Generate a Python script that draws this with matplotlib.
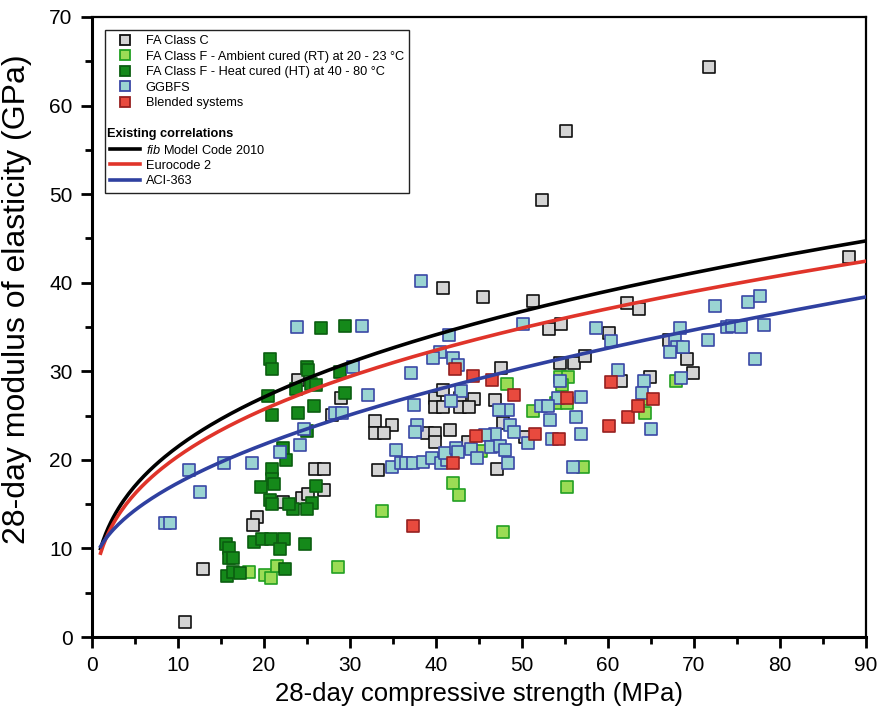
import numpy as np
import matplotlib
matplotlib.use('Agg')
import matplotlib.pyplot as plt
from matplotlib.lines import Line2D

# --- data (x = compressive strength MPa, y = E GPa) ---
fa_c_x = [71.7, 55.1, 52.3, 88.0, 40.8, 45.5, 51.3, 53.1, 54.5, 62.2, 63.6, 60.1,
          47.6, 54.4, 56.0, 57.3, 64.9, 61.5, 67.1, 69.2, 69.9, 44.4, 46.9, 47.8,
          47.1, 50.3, 24.0, 29.0, 39.9, 40.8, 39.9, 40.8, 42.8, 42.8, 43.8, 27.9,
          32.9, 34.9, 32.9, 34.0, 39.0, 39.9, 39.9, 41.6, 43.7, 25.9, 27.0, 33.3,
          27.0, 24.4, 25.1, 22.2, 19.2, 18.7, 12.9, 10.8]
fa_c_y = [64.4, 57.1, 49.3, 42.9, 39.4, 38.4, 37.9, 34.8, 35.3, 37.7, 37.0, 34.3,
          30.4, 30.9, 30.9, 31.7, 29.4, 28.9, 33.5, 31.4, 29.8, 26.9, 26.8, 24.2,
          19.0, 22.6, 29.0, 27.0, 27.0, 27.9, 26.0, 26.0, 27.0, 26.0, 26.0, 25.1,
          24.4, 23.9, 23.0, 23.0, 23.0, 23.0, 22.0, 23.4, 22.0, 19.0, 19.0, 18.9,
          16.6, 15.7, 16.1, 15.2, 13.5, 12.6, 7.7, 1.7]

fa_f_rt_x = [48.3, 54.4, 55.3, 54.7, 51.3, 54.0, 55.2, 64.3, 64.1, 45.2, 57.1,
             55.2, 47.8, 67.9, 42.0, 42.7, 33.7, 18.3, 20.1, 20.8, 21.5, 28.6]
fa_f_rt_y = [28.6, 29.4, 29.4, 28.4, 25.5, 26.4, 26.4, 25.3, 26.9, 21.0, 19.2,
             16.9, 11.9, 28.9, 17.4, 16.0, 14.2, 7.3, 7.0, 6.7, 8.0, 7.9]

fa_f_ht_x = [26.6, 29.4, 25.0, 25.1, 28.8, 25.5, 26.0, 23.7, 29.4, 25.8, 24.0,
             25.0, 22.2, 22.6, 26.0, 25.6, 25.0, 23.4, 22.9, 22.3, 24.8, 20.9,
             20.5, 20.9, 20.9, 21.2, 19.7, 20.7, 20.9, 15.6, 15.9, 18.8, 19.8,
             20.8, 21.9, 15.9, 16.4, 20.7, 20.9, 15.7, 16.4, 17.2, 22.4]
fa_f_ht_y = [34.9, 35.1, 30.5, 30.1, 29.9, 28.6, 28.5, 28.0, 27.6, 26.1, 25.3,
             23.3, 21.3, 20.0, 17.0, 15.1, 14.4, 14.4, 15.0, 11.1, 10.5, 25.1,
             27.2, 19.0, 17.8, 17.3, 16.9, 15.5, 15.0, 10.5, 10.0, 10.7, 11.1,
             11.1, 9.9, 8.9, 8.9, 31.4, 30.3, 6.9, 7.3, 7.2, 7.7]

ggbfs_x = [11.3, 12.6, 15.3, 18.6, 21.9, 8.5, 9.1, 32.1, 28.3, 29.1, 24.7, 24.2,
           38.3, 23.8, 31.4, 41.5, 40.5, 39.7, 42.0, 42.5, 30.3, 37.1, 42.9, 41.7,
           37.4, 37.8, 37.6, 35.3, 34.9, 35.9, 36.5, 37.3, 38.5, 39.5, 40.6, 41.3,
           41.0, 42.3, 42.6, 44.1, 44.8, 50.1, 58.6, 60.3, 61.2, 54.4, 64.2, 64.0,
           56.9, 54.2, 48.4, 47.3, 52.2, 53.0, 53.3, 56.3, 48.6, 49.1, 46.9, 45.7,
           65.0, 50.7, 53.5, 56.9, 46.4, 47.4, 48.0, 48.4, 55.9, 72.4, 76.3, 77.7,
           78.1, 68.4, 73.8, 74.4, 75.5, 67.8, 71.6, 68.0, 68.7, 67.2, 77.1, 68.5]
ggbfs_y = [18.9, 16.4, 19.6, 19.7, 20.9, 12.9, 12.9, 27.3, 25.3, 25.3, 23.5, 21.7,
           40.2, 35.0, 35.1, 34.1, 32.2, 31.5, 31.5, 30.7, 30.5, 29.8, 27.8, 26.6,
           26.2, 23.9, 23.1, 21.1, 19.2, 19.6, 19.6, 19.6, 19.8, 20.2, 19.6, 20.0,
           20.8, 21.3, 20.9, 21.2, 20.2, 35.3, 34.9, 33.4, 30.1, 28.9, 28.9, 27.6,
           27.1, 27.0, 25.6, 25.6, 26.1, 26.1, 24.5, 24.8, 23.9, 23.1, 22.9, 22.8,
           23.5, 21.9, 22.4, 22.9, 21.5, 21.6, 21.1, 19.6, 19.2, 37.4, 37.8, 38.5,
           35.2, 34.9, 35.0, 35.1, 35.0, 33.5, 33.5, 32.7, 32.7, 32.2, 31.4, 29.2]

blend_x = [42.2, 44.3, 44.7, 42.0, 37.3, 46.5, 49.1, 51.5, 54.3, 55.2, 60.3,
           62.3, 63.5, 65.2, 60.1]
blend_y = [30.3, 29.5, 22.7, 19.6, 12.5, 29.0, 27.3, 22.9, 22.4, 27.0, 28.8,
           24.8, 26.1, 26.9, 23.8]

# existing correlations (code equations, coefficients as they sit in the figure)
fc = np.linspace(1, 90, 300)
E_fib = 21.5 * (fc / 10) ** (1 / 3)      # fib Model Code 2010
E_ec2 = 20.4 * (fc / 10) ** (1 / 3)      # Eurocode 2
E_aci = 3.32 * np.sqrt(fc) + 6.9         # ACI-363

plt.rcParams['mathtext.fontset'] = 'custom'
plt.rcParams['mathtext.it'] = 'Liberation Sans:italic'
plt.rcParams['font.family'] = ['Liberation Sans', 'DejaVu Sans']

fig = plt.figure(figsize=(8.77, 7.19), dpi=100)
ax = fig.add_axes([0.1049, 0.114, 0.8826, 0.8624])

ms = 70
series = [
    (fa_c_x, fa_c_y, '#d4d4d4', '#111111', 'FA Class C'),
    (fa_f_rt_x, fa_f_rt_y, '#9bdc55', '#22a022', 'FA Class F - Ambient cured (RT) at 20 - 23 °C'),
    (fa_f_ht_x, fa_f_ht_y, '#15891a', '#0b5e10', 'FA Class F - Heat cured (HT) at 40 - 80 °C'),
    (ggbfs_x, ggbfs_y, '#9ad4d2', '#3a48a6', 'GGBFS'),
    (blend_x, blend_y, '#e84a3e', '#962020', 'Blended systems'),
]
handles = []
for xs, ys, fcol, ecol, lab in series:
    ax.scatter(xs, ys, s=ms, marker='s', facecolor=fcol, edgecolor=ecol,
               linewidths=1.2, zorder=3)
    handles.append(Line2D([], [], marker='s', linestyle='none', markersize=7.5,
                          markerfacecolor=fcol, markeredgecolor=ecol,
                          markeredgewidth=1.3, label=lab))

l1, = ax.plot(fc, E_fib, color='black', lw=2.6, zorder=4, label='$\\it{fib}$ Model Code 2010')
l2, = ax.plot(fc, E_ec2, color='#e0342a', lw=2.6, zorder=4, label='Eurocode 2')
l3, = ax.plot(fc, E_aci, color='#2f40a0', lw=2.6, zorder=4, label='ACI-363')

blank = Line2D([], [], linestyle='none', label=' ')
leg_handles = handles + [blank, Line2D([], [], linestyle='none', label=' '), l1, l2, l3]
leg = ax.legend(handles=leg_handles, loc='upper left', bbox_to_anchor=(0.0168, 0.979),
                fontsize=9.2, frameon=True, fancybox=False, framealpha=1,
                edgecolor='#222222', borderpad=0.42, labelspacing=0.27,
                handlelength=2.3, handletextpad=0.45, borderaxespad=0)
leg.get_frame().set_linewidth(1.0)
ax.text(0.019, 0.811, 'Existing correlations', transform=ax.transAxes,
        fontsize=9.2, fontweight='bold', va='center', ha='left', zorder=6)

ax.set_xlim(0, 90)
ax.set_ylim(0, 70)
ax.set_xticks(np.arange(0, 91, 10))
ax.set_xticks(np.arange(5, 90, 10), minor=True)
ax.set_yticks(np.arange(0, 71, 10))
ax.set_yticks(np.arange(5, 70, 10), minor=True)

ax.tick_params(which='major', direction='out', length=8, width=2, labelsize=15,
               top=False, right=False, pad=6)
ax.tick_params(which='minor', direction='out', length=5, width=2,
               top=False, right=False)

for side in ['left', 'bottom']:
    ax.spines[side].set_linewidth(2.2)
for side in ['top', 'right']:
    ax.spines[side].set_linewidth(1.6)

ax.set_xlabel('28-day compressive strength (MPa)', fontsize=18.5, labelpad=5)
ax.set_ylabel('28-day modulus of elasticity (GPa)', fontsize=23)
ax.yaxis.set_label_coords(-0.077, 0.545)

fig.savefig('out.png', dpi=100)
